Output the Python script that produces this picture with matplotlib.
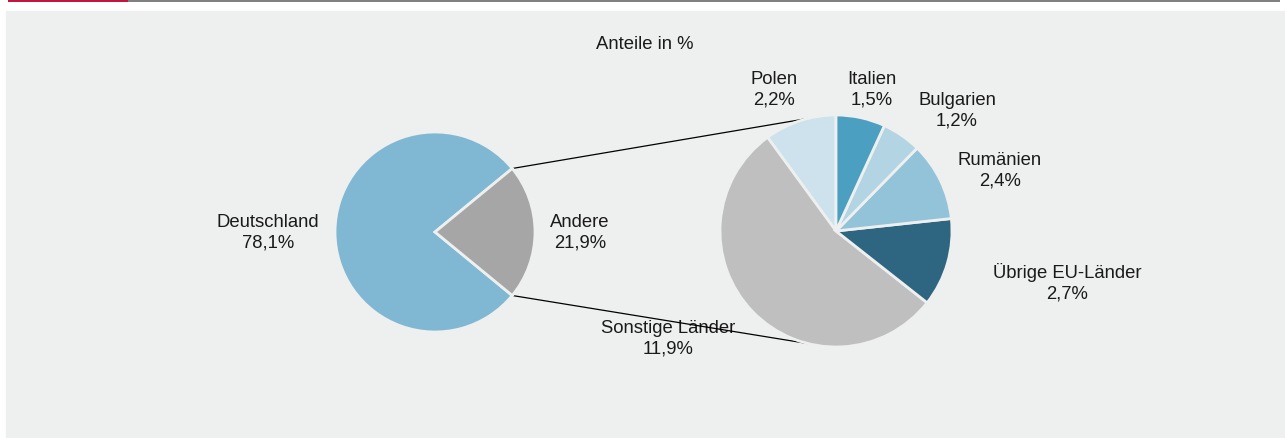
import numpy as np
import matplotlib.pyplot as plt
from matplotlib.patches import Rectangle

plt.rcParams['font.family'] = ['Liberation Sans', 'DejaVu Sans']

# main pie
main_labels = ['Deutschland', 'Andere']
main_values = [78.1, 21.9]
main_colors = ['#80b8d3', '#a6a6a6']

# breakdown of "Andere" (counterclockwise from 12 o'clock)
sub_labels = ['Polen', 'Sonstige Länder', 'Übrige EU-Länder', 'Rumänien', 'Bulgarien', 'Italien']
sub_values = [2.2, 11.9, 2.7, 2.4, 1.2, 1.5]
sub_colors = ['#cde2ec', '#bfbfbf', '#2e6580', '#93c3d9', '#b3d5e3', '#4b9fc0']

W, H = 1285, 439
fig = plt.figure(figsize=(W / 100, H / 100), dpi=100)
ax = fig.add_axes([0, 0, 1, 1])

# frame / header
ax.add_patch(Rectangle((6, 0), W - 6, H - 12, color='#eef0ef', zorder=0))
ax.add_patch(Rectangle((8, H - 2.5), 120, 2.5, color='#c0163f', lw=0, zorder=1))
ax.add_patch(Rectangle((128, H - 2.5), 1152, 2.5, color='#808080', lw=0, zorder=1))

c1, r1 = (435, H - 233), 100
c2, r2 = (836, H - 232), 116
wp = dict(edgecolor='#eef0ef', linewidth=2)

andere_half = main_values[1] / 100 * 180
ax.pie(main_values, colors=main_colors, center=c1, radius=r1,
       startangle=andere_half, counterclock=True, wedgeprops=wp)
ax.pie(sub_values, colors=sub_colors, center=c2, radius=r2,
       startangle=90, counterclock=True, wedgeprops=wp)

# connector lines
for a1, a2 in [(andere_half, 104), (-andere_half, 256)]:
    p1 = (c1[0] + r1 * np.cos(np.radians(a1)), c1[1] + r1 * np.sin(np.radians(a1)))
    p2 = (c2[0] + r2 * np.cos(np.radians(a2)), c2[1] + r2 * np.sin(np.radians(a2)))
    ax.plot([p1[0], p2[0]], [p1[1], p2[1]], color='black', lw=0.9, zorder=0.5)

def pct(v):
    return f'{v:.1f}'.replace('.', ',') + '%'

fs = 13.3
tc = '#1a1a1a'
ax.text(645, H - 44, 'Anteile in %', ha='center', va='center', fontsize=fs, color=tc)

main_pos = [(268, 233), (580, 233)]
for lab, v, (x, y) in zip(main_labels, main_values, main_pos):
    ax.text(x, H - y, f'{lab}\n{pct(v)}', ha='center', va='center',
            fontsize=fs, color=tc, linespacing=1.3)

sub_pos = [(774, 90), (668, 339), (1067, 283), (1000, 171), (957, 111), (872, 90)]
for lab, v, (x, y) in zip(sub_labels, sub_values, sub_pos):
    ax.text(x, H - y, f'{lab}\n{pct(v)}', ha='center', va='center',
            fontsize=fs, color=tc, linespacing=1.3, zorder=0.4)

ax.set_xlim(0, W)
ax.set_ylim(0, H)
ax.set_aspect('equal')
ax.axis('off')
fig.savefig('out.png', dpi=100, facecolor='white')
